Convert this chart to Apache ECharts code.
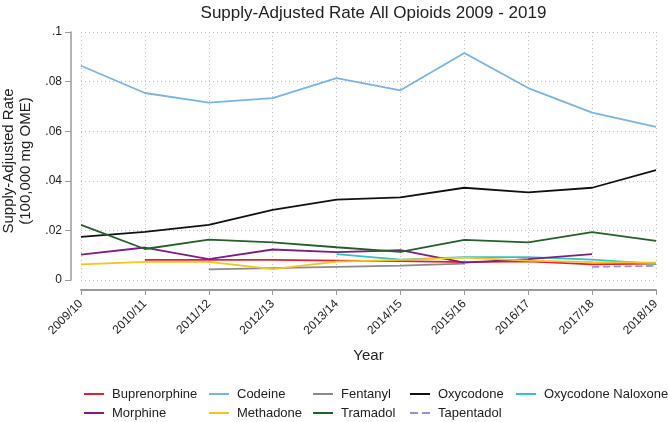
<!DOCTYPE html>
<html>
<head>
<meta charset="utf-8">
<script src="https://cdn.jsdelivr.net/npm/echarts@6/dist/echarts.min.js"></script>
<style>html,body{margin:0;padding:0;background:#fff}#c{width:669px;height:422px}</style>
</head>
<body>
<div id="c"></div>
<script>
var categories = ['2009/10','2010/11','2011/12','2012/13','2013/14','2014/15','2015/16','2016/17','2017/18','2018/19'];
var yTickLabels = ['0', '.02', '.04', '.06', '.08', '.1'];
var buprenorphine = [null, 0.0081, 0.0081, 0.0081, 0.0078, 0.0076, 0.0072, 0.0075, 0.0063, 0.0066];
var codeine = [0.0864, 0.0754, 0.0715, 0.0733, 0.0814, 0.0765, 0.0915, 0.0774, 0.0675, 0.0617];
var fentanyl = [null, null, 0.0043, 0.0048, 0.0053, 0.0058, 0.0066, null, null, null];
var oxycodone = [0.0174, 0.0194, 0.0222, 0.0283, 0.0324, 0.0333, 0.0372, 0.0353, 0.0372, 0.0443];
var oxyNaloxone = [null, null, null, null, 0.0104, 0.0082, 0.0092, 0.0092, 0.0082, 0.0065];
var morphine = [0.0102, 0.0131, 0.0084, 0.0123, 0.0112, 0.0120, 0.0070, 0.0084, 0.0104, null];
var methadone = [0.0063, 0.0073, 0.0073, 0.0044, 0.0074, 0.0081, 0.0090, 0.0078, 0.0072, 0.0070];
var tramadol = [0.0222, 0.0125, 0.0163, 0.0152, 0.0132, 0.0113, 0.0162, 0.0152, 0.0193, 0.0158];
var tapentadol = [null, null, null, null, null, null, null, null, 0.0053, 0.0057];

var seriesDefs = [
  ['Buprenorphine', buprenorphine, '#d62631', 'solid'],
  ['Codeine', codeine, '#7ab4e2', 'solid'],
  ['Fentanyl', fentanyl, '#8a8a8a', 'solid'],
  ['Oxycodone', oxycodone, '#111111', 'solid'],
  ['Oxycodone Naloxone', oxyNaloxone, '#35c2c4', 'solid'],
  ['Morphine', morphine, '#7d1f80', 'solid'],
  ['Methadone', methadone, '#f7c31c', 'solid'],
  ['Tramadol', tramadol, '#23602a', 'solid'],
  ['Tapentadol', tapentadol, '#9b8ede', 'dashed']
];

var series = seriesDefs.map(function (d) {
  return {
    name: d[0], type: 'line', data: d[1], symbol: 'none', connectNulls: false,
    lineStyle: { color: d[2], width: 1.8, type: d[3] },
    itemStyle: { color: d[2] }
  };
});

var legendCols = [
  [['Buprenorphine', 'Morphine'], 83],
  [['Codeine', 'Methadone'], 208],
  [['Fentanyl', 'Tramadol'], 312],
  [['Oxycodone', 'Tapentadol'], 409],
  [['Oxycodone Naloxone'], 515]
];
var legends = legendCols.map(function (c) {
  return {
    data: c[0], left: c[1], top: 387, orient: 'vertical', itemGap: 5, padding: 0,
    itemWidth: 20, itemHeight: 14, selectedMode: false,
    itemStyle: { color: 'rgba(0,0,0,0)', borderWidth: 0, opacity: 0 },
    textStyle: { fontFamily: 'Liberation Sans', fontSize: 13, color: '#222', padding: [0, 0, 0, 3], lineHeight: 14 }
  };
});

var chart = echarts.init(document.getElementById('c'), null, { renderer: 'canvas' });
chart.setOption({
  animation: false,
  backgroundColor: '#fff',
  title: {
    text: 'Supply-Adjusted Rate All Opioids 2009 - 2019',
    left: 368.5, top: 0, textAlign: 'center',
    textStyle: { fontFamily: 'Liberation Sans', fontSize: 17, fontWeight: 'normal', color: '#222' }
  },
  legend: legends,
  grid: { left: 81, right: 13, top: 32, bottom: 142, outerBoundsMode: 'none', containLabel: false },
  xAxis: {
    type: 'category', data: categories, boundaryGap: false, offset: 10,
    name: 'Year', nameLocation: 'middle', nameGap: 58,
    nameTextStyle: { fontFamily: 'Liberation Sans', fontSize: 15, color: '#222' },
    axisLine: { onZero: false, lineStyle: { color: '#9a9a9a', width: 2 } },
    axisTick: { show: true, length: 5, lineStyle: { color: '#9a9a9a' } },
    axisLabel: { rotate: 45, fontFamily: 'Liberation Sans', fontSize: 12, color: '#222', margin: 12 },
    splitLine: { show: true, lineStyle: { color: '#bcbcbc', type: [1, 3], width: 1 } }
  },
  yAxis: {
    type: 'value', min: 0, max: 0.1, interval: 0.02, offset: 10,
    name: 'Supply-Adjusted Rate\n(100,000 mg OME)', nameLocation: 'middle', nameGap: 36,
    nameTextStyle: { fontFamily: 'Liberation Sans', fontSize: 15, color: '#222', lineHeight: 17, padding: [0, 10, 0, 0] },
    axisLine: { show: true, onZero: false, lineStyle: { color: '#9a9a9a', width: 1.5 } },
    axisTick: { show: true, length: 6, lineStyle: { color: '#9a9a9a' } },
    axisLabel: {
      fontFamily: 'Liberation Sans', fontSize: 12, color: '#222', margin: 9,
      formatter: function (v) {
        return yTickLabels[Math.round(v / 0.02)];
      }
    },
    splitLine: { show: true, lineStyle: { color: '#bcbcbc', type: [1, 3], width: 1 } }
  },
  series: series
});
</script>
</body>
</html>
